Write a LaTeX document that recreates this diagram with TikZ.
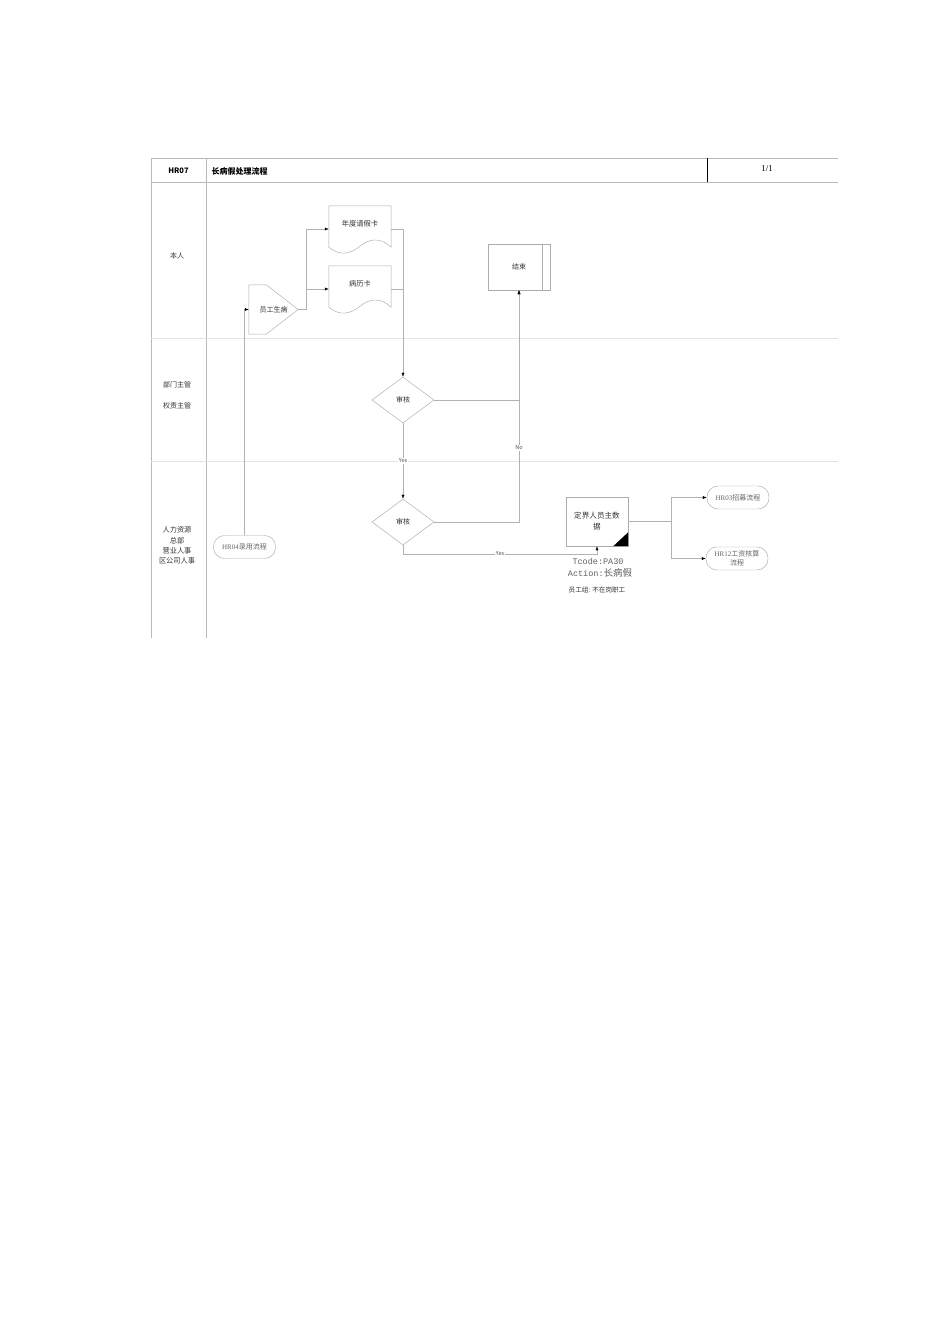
\documentclass[tikz,border=0pt]{standalone}
\usepackage{fontspec}
\setmainfont{Noto Sans CJK SC}
\newfontfamily\serifL{Liberation Serif}
\newfontfamily\monoL{Liberation Mono}
\usetikzlibrary{shapes.geometric,arrows.meta,calc}
\newcommand\docoutline[1]{\draw[shapeline] (#1.north west) -- (#1.north east) -- ([yshift=5pt]#1.south east) .. controls ([xshift=-11pt,yshift=15pt]#1.south east) and ([xshift=10pt,yshift=14pt]#1.south) .. ([yshift=6pt]#1.south) .. controls ([xshift=-10pt,yshift=-2pt]#1.south) and ([xshift=11pt,yshift=-4pt]#1.south west) .. ([yshift=5pt]#1.south west) -- cycle;}
\begin{document}
\begin{tikzpicture}[x=1pt,y=-1pt,
  frame/.style={draw=gray!55, line width=0.5pt},
  lane/.style={draw=gray!22, line width=0.6pt},
  shapeline/.style={draw=gray!65, line width=0.45pt},
  conn/.style={draw=gray!60, line width=0.4pt},
  arr/.style={conn, -{Latex[length=4pt,width=3pt,color=black]}},
  txt/.style={font=\fontsize{7}{8.5}\selectfont, text=black!80},
  box/.style={rectangle, inner sep=0pt},
  dia/.style={diamond, shapeline, minimum width=62pt, minimum height=46pt, inner sep=0pt, txt},
  term/.style={rectangle, rounded corners=11pt, shapeline, minimum width=62pt, minimum height=23pt, inner sep=0pt, font=\fontsize{7}{8.5}\selectfont, text=gray!80!black, align=center},
  lbl/.style={fill=white, inner sep=0.8pt, font=\fontsize{5.5}{6}\selectfont, text=black!70},
]
\useasboundingbox (0,0) rectangle (950,1344);
\fill[white] (0,0) rectangle (950,1344);

% frame
\draw[frame] (151,158) -- (838,158);
\draw[frame] (151,182) -- (838,182);
\draw[frame] (151,158) -- (151,638);
\draw[frame] (206,158) -- (206,638);
\draw[black, line width=0.6pt] (707,158) -- (707,182);
\draw[lane] (151,338) -- (838,338);
\draw[lane] (151,461) -- (838,461);

% header
\node[txt, font=\bfseries\fontsize{7.5}{9}\selectfont, text=black] (code) at (178.5,171) {HR07};
\node[txt, anchor=west, font=\bfseries\fontsize{8}{9}\selectfont, text=black] (title) at (208,171) {长病假处理流程};
\node[font=\serifL\fontsize{9}{10}\selectfont] (page) at (767,169) {1/1};

% lane labels
\node[txt] (l1) at (177,256) {本人};
\node[txt] (l2a) at (177,385) {部门主管};
\node[txt] (l2b) at (177,406) {权责主管};
\node[txt, align=center, font=\fontsize{7.2}{10.3}\selectfont] (l3) at (177,545.5) {人力资源\\总部\\营业人事\\区公司人事};

% shapes
\node[box, minimum width=49pt, minimum height=49pt, txt] (sick) at (273.5,309.5) {员工生病\hspace{6pt}};
\draw[shapeline] (sick.north west) -- ([xshift=-32pt]sick.north east) -- (sick.east) -- ([xshift=-32pt]sick.south east) -- (sick.south west) -- cycle;

\node[box, minimum width=62pt, minimum height=46pt, txt, font=\fontsize{7.3}{8.5}\selectfont, text height=6pt, text depth=12pt] (card1) at (360,229) {年度请假卡};
\docoutline{card1}
\node[box, minimum width=62pt, minimum height=46pt, txt, font=\fontsize{7.3}{8.5}\selectfont, text height=6pt, text depth=12pt] (card2) at (360,289) {病历卡};
\docoutline{card2}

\node[dia] (d1) at (403,400) {审核};
\node[dia] (d2) at (403,522) {审核};

\node[box, shapeline, minimum width=62pt, minimum height=46pt, txt] (end) at (519,267) {结束\hspace{12pt}};
\draw[shapeline] ([xshift=-8pt]end.north east) -- ([xshift=-8pt]end.south east);

\node[box, shapeline, minimum width=62pt, minimum height=49pt, txt, align=center, font=\fontsize{7.6}{11}\selectfont] (proc) at (597,521.5) {定界人员主数\\据};
\fill[black] (proc.south east) -- ([xshift=-15pt]proc.south east) -- ([yshift=14pt]proc.south east) -- cycle;

\node[font=\monoL\fontsize{8.5}{10}\selectfont, text=gray!75!black] (tc) at (598,561) {Tcode:PA30};
\node[font=\monoL\fontsize{8.5}{10}\selectfont, text=gray!75!black] (ac) at (600,573) {Action:{\rmfamily\fontsize{9.5}{10}\selectfont 长病假}};
\node[txt, font=\fontsize{6.6}{7.5}\selectfont] (grp) at (597,590) {员工组: 不在岗职工};

\node[term] (hr03) at (738,497.5) {{\serifL HR03}招募流程};
\node[term] (hr12) at (737,558.5) {{\serifL HR12}工资核算\\流程};
\node[term] (hr04) at (244.5,547) {{\serifL HR04}录用流程};

% connectors
\draw[arr] (hr04.north) |- (sick.west);
\draw[arr] (sick.east) -- ++(8,0) |- (card1.west);
\draw[arr] (sick.east) -- ++(8,0) |- (card2.west);
\draw[arr] (card1.east) -| (d1.north);
\draw[conn] (card2.east) -- (card2.east -| d1.north);
\draw[arr] (d1.east) -| (end.south);
\draw[arr] (d2.east) -| (end.south) node[lbl, pos=0.66] {No};
\draw[arr] (d1.south) -- (d2.north) node[lbl, midway] {Yes};
\coordinate (yb) at (403,554);
\draw[arr] (d2.south) -- (yb) -| (proc.south) node[lbl, pos=0.25] {Yes};
\coordinate (br) at (671,521.5);
\draw[conn] (proc.east) -- (br);
\draw[arr] (br) |- (hr03.west);
\draw[arr] (br) |- (hr12.west);
\end{tikzpicture}
\end{document}
